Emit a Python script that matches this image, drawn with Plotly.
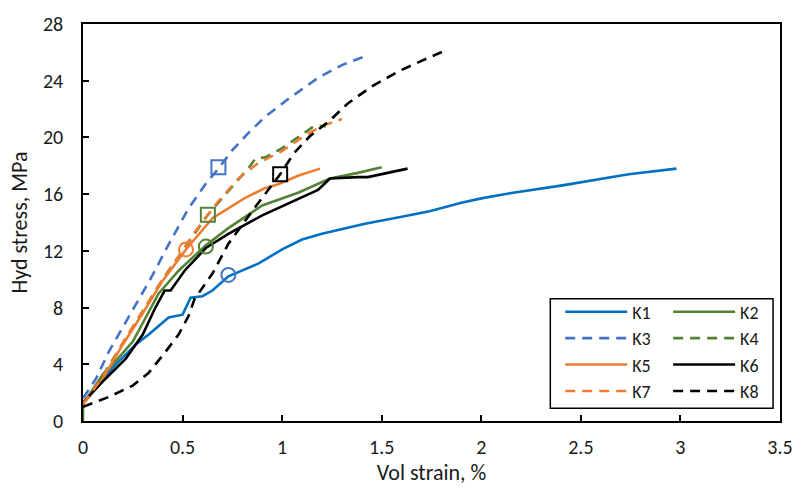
import plotly.graph_objects as go

# ---- data ----
k1_x = [0, 0.1, 0.165, 0.265, 0.33, 0.43, 0.5, 0.54, 0.6, 0.65, 0.73, 0.8, 0.88, 1.0, 1.1, 1.2, 1.41, 1.6, 1.74, 1.9, 2.0, 2.16, 2.4, 2.74, 2.98]
k1_y = [1.2, 3.0, 4.0, 5.4, 6.1, 7.3, 7.5, 8.7, 8.8, 9.2, 10.2, 10.6, 11.1, 12.1, 12.8, 13.2, 13.9, 14.4, 14.8, 15.4, 15.7, 16.1, 16.6, 17.4, 17.8]

k2_x = [0, 0, 0.1, 0.15, 0.25, 0.38, 0.48, 0.617, 0.73, 0.9, 1.08, 1.24, 1.38, 1.5]
k2_y = [0, 1.2, 3.3, 4.0, 5.6, 9.0, 10.6, 12.4, 13.6, 15.2, 16.1, 17.1, 17.5, 17.9]

k3_x = [0, 0.066, 0.13, 0.215, 0.28, 0.35, 0.42, 0.53, 0.62, 0.68, 0.75, 0.83, 0.91, 1.02, 1.18, 1.3, 1.43]
k3_y = [1.6, 3.0, 4.9, 7.0, 8.6, 10.3, 12.2, 15.0, 16.8, 17.8, 19.1, 20.3, 21.4, 22.6, 24.2, 25.1, 25.8]

k4_x = [0, 0.1, 0.2, 0.3, 0.4, 0.5, 0.57, 0.627, 0.68, 0.765, 0.84, 0.865, 0.915, 0.995, 1.06, 1.13, 1.16, 1.22]
k4_y = [1.2, 3.2, 5.5, 7.8, 10.0, 12.0, 13.4, 14.55, 15.4, 16.8, 18.0, 18.5, 18.6, 19.2, 19.8, 20.5, 20.8, 20.8]

k5_x = [0, 0.1, 0.2, 0.3, 0.4, 0.517, 0.65, 0.75, 0.81, 0.91, 0.98, 1.08, 1.19]
k5_y = [1.2, 3.0, 5.4, 7.6, 9.9, 12.1, 14.3, 15.2, 15.7, 16.4, 16.7, 17.3, 17.8]

k6_x = [0, 0.1, 0.215, 0.3, 0.36, 0.41, 0.44, 0.51, 0.617, 0.73, 0.9, 1.01, 1.13, 1.18, 1.21, 1.24, 1.38, 1.43, 1.63]
k6_y = [1.3, 2.8, 4.4, 6.1, 7.9, 9.2, 9.2, 10.6, 12.2, 13.2, 14.5, 15.2, 16.0, 16.3, 16.7, 17.1, 17.2, 17.2, 17.8]

k7_x = [0, 0.1, 0.2, 0.3, 0.4, 0.5, 0.55, 0.627, 0.68, 0.78, 0.88, 0.995, 1.11, 1.2, 1.30]
k7_y = [1.2, 3.1, 5.5, 7.8, 10.0, 12.0, 13.1, 14.55, 15.5, 17.1, 18.2, 19.0, 20.1, 20.8, 21.3]

k8_x = [0, 0.13, 0.25, 0.33, 0.41, 0.48, 0.53, 0.56, 0.65, 0.73, 0.86, 0.99, 1.06, 1.14, 1.24, 1.33, 1.45, 1.59, 1.7, 1.83]
k8_y = [1.0, 1.7, 2.5, 3.4, 4.8, 6.1, 7.4, 8.6, 10.4, 12.5, 15.0, 17.4, 18.9, 20.1, 21.2, 22.4, 23.6, 24.7, 25.4, 26.2]

# marked points
circle_names = ["K1", "K2", "K5"]
circle_x = [0.73, 0.617, 0.517]
circle_y = [10.3, 12.3, 12.1]
square_names = ["K3", "K4", "K8"]
square_x = [0.68, 0.627, 0.99]
square_y = [17.9, 14.55, 17.4]

names = ["K1", "K2", "K3", "K4", "K5", "K6", "K7", "K8"]
xs = [k1_x, k2_x, k3_x, k4_x, k5_x, k6_x, k7_x, k8_x]
ys = [k1_y, k2_y, k3_y, k4_y, k5_y, k6_y, k7_y, k8_y]

x_ticks = [0, 0.5, 1, 1.5, 2, 2.5, 3, 3.5]
x_tick_labels = ["0", "0.5", "1", "1.5", "2", "2.5", "3", "3.5"]
y_ticks = [0, 4, 8, 12, 16, 20, 24, 28]

# ---- styles ----
BLUE = "#0070C0"
LBLUE = "#4472C4"
GREEN = "#548235"
ORANGE = "#ED7D31"
BLACK = "#000000"
colors = {"K1": BLUE, "K2": GREEN, "K3": LBLUE, "K4": GREEN,
          "K5": ORANGE, "K6": BLACK, "K7": ORANGE, "K8": BLACK}
dashes = {"K1": "solid", "K2": "solid", "K3": "10px,7px", "K4": "10px,7px",
          "K5": "solid", "K6": "solid", "K7": "10px,7px", "K8": "10px,7px"}
legend_of = {"K1": "legend", "K3": "legend", "K5": "legend", "K7": "legend",
             "K2": "legend2", "K4": "legend2", "K6": "legend2", "K8": "legend2"}

FONT = "Carlito, Lato, 'Liberation Sans', sans-serif"
TXT = "#1a1a1a"
FS_TICK = 20
FS_TITLE = 22
FS_LEG = 18

fig = go.Figure()
for n, x, y in zip(names, xs, ys):
    fig.add_trace(go.Scatter(
        x=x, y=y, mode="lines", name=n,
        line=dict(color=colors[n], width=2.6, dash=dashes[n]),
        legend=legend_of[n], legendgroup=n,
    ))

marker_color = {"K1": LBLUE, "K2": GREEN, "K5": ORANGE, "K3": LBLUE, "K4": GREEN, "K8": BLACK}
for n, x, y in zip(circle_names, circle_x, circle_y):
    fig.add_trace(go.Scatter(
        x=[x], y=[y], mode="markers", showlegend=False,
        marker=dict(symbol="circle-open", size=14, line=dict(width=2, color=marker_color[n]), color=marker_color[n]),
    ))
for n, x, y in zip(square_names, square_x, square_y):
    fig.add_trace(go.Scatter(
        x=[x], y=[y], mode="markers", showlegend=False,
        marker=dict(symbol="square-open", size=14, line=dict(width=2, color=marker_color[n]), color=marker_color[n]),
    ))

axis_common = dict(
    showline=True, linecolor="black", linewidth=1.5, mirror=True,
    ticks="inside", ticklen=6, tickwidth=1.5, tickcolor="black",
    showgrid=False, zeroline=False,
    tickfont=dict(family=FONT, size=FS_TICK, color=TXT),
)

legend_common = dict(xanchor="left", yanchor="top", bgcolor="rgba(0,0,0,0)",
                     itemwidth=62, tracegroupgap=0, font=dict(family=FONT, size=FS_LEG, color=TXT))

fig.update_layout(
    width=805, height=495,
    margin=dict(l=83, r=18, t=15, b=74),
    paper_bgcolor="white", plot_bgcolor="white",
    font=dict(family=FONT, size=FS_TICK, color=TXT),
    xaxis=dict(range=[0, 3.5], tickvals=x_ticks, ticktext=x_tick_labels,
               ticklabelstandoff=7,
               title=dict(text="Vol strain, %", font=dict(family=FONT, size=FS_TITLE, color=TXT), standoff=4),
               **axis_common),
    yaxis=dict(range=[0, 28], tickvals=y_ticks,
               ticklabelstandoff=14,
               title=dict(text="Hyd stress, MPa", font=dict(family=FONT, size=FS_TITLE, color=TXT), standoff=9),
               **axis_common),
    legend=dict(x=(565 - 83) / 704, y=0.321, **legend_common),
    legend2=dict(x=(674 - 83) / 704, y=0.321, **legend_common),
    shapes=[dict(type="rect", xref="paper", yref="paper",
                 x0=(555 - 83) / 704, x1=(780 - 83) / 704,
                 y0=(421 - 408) / 406, y1=(421 - 296) / 406,
                 line=dict(color="black", width=1.5), fillcolor="white", layer="above")],
)

fig.write_html("out.html")
